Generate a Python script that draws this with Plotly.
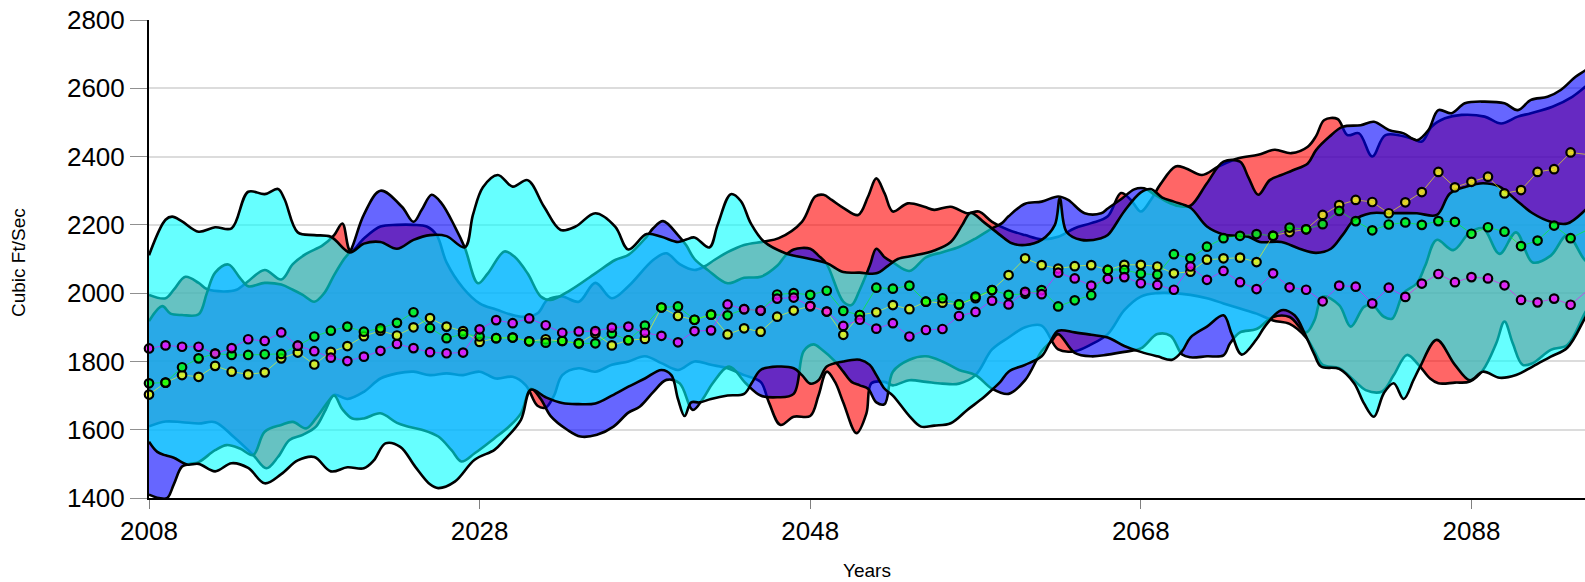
import plotly.graph_objects as go

# ---------------- data ----------------
YEARS = list(range(2008, 2096))

MAGENTA = [1838, 1847, 1843, 1843, 1823, 1839, 1865, 1860, 1885, 1846,
           1830, 1811, 1801, 1814, 1831, 1851, 1839, 1827, 1824, 1826,
           1894, 1921, 1912, 1926, 1906, 1884, 1888, 1889, 1899, 1902,
           1884, 1875, 1856, 1889, 1891, 1967, 1953, 1949, 1984, 1987,
           1962, 1946, 1904, 1922, 1896, 1912, 1873, 1892, 1895, 1933,
           1945, 1978, 1967, 2004, 1997, 2060, 2043, 2022, 2042, 2047,
           2029, 2024, 2010, 2078, 2039, 2065, 2032, 2012, 2058, 2017,
           2010, 1976, 2022, 2019, 1970, 2016, 1989, 2028, 2056, 2032,
           2047, 2043, 2023, 1980, 1973, 1984, 1966, 2007]

GREEN = [1736, 1738, 1783, 1809, 1823, 1819, 1819, 1821, 1822, 1846,
         1873, 1890, 1902, 1887, 1897, 1913, 1944, 1898, 1868, 1880,
         1873, 1868, 1870, 1859, 1855, 1860, 1853, 1853, 1882, 1862,
         1905, 1958, 1961, 1922, 1937, 1935, 1953, 1949, 1996, 2000,
         1995, 2007, 1948, 1936, 2016, 2013, 2022, 1975, 1985, 1967,
         1990, 2009, 1995, 1998, 2009, 1961, 1979, 1994, 2068, 2068,
         2057, 2054, 2114, 2102, 2136, 2161, 2168, 2173, 2168, 2192,
         2187, 2202, 2241, 2211, 2184, 2201, 2207, 2200, 2211, 2209,
         2174, 2193, 2180, 2138, 2154, 2198, 2161, 2185]

YELLOW = [1703, 1738, 1760, 1755, 1787, 1770, 1762, 1768, 1809, 1826,
          1791, 1828, 1845, 1874, 1890, 1876, 1900, 1927, 1902, 1889,
          1857, 1868, 1870, 1859, 1865, 1860, 1853, 1882, 1847, 1862,
          1866, 1958, 1933, 1922, 1937, 1879, 1897, 1887, 1931, 1949,
          1962, 1946, 1878, 1936, 1944, 1965, 1953, 1975, 1972, 1967,
          1985, 2009, 2053, 2102, 2082, 2072, 2079, 2082, 2068, 2083,
          2083, 2078, 2058, 2063, 2098, 2102, 2104, 2091, 2168, 2179,
          2187, 2229, 2258, 2273, 2267, 2234, 2266, 2296, 2355, 2310,
          2326, 2341, 2292, 2302, 2355, 2363, 2412, 2406]

# band envelopes: (year, value)
RED_UPPER = [(2008, 1995), (2009, 1985), (2009.5, 2010), (2010.2, 2048), (2011, 2030), (2011.5, 2012),
             (2012.5, 2005), (2013.3, 2010), (2014, 2035), (2015, 2068), (2016, 2040), (2016.7, 2085),
             (2017.5, 2115), (2018.5, 2140), (2019.2, 2170), (2019.7, 2204), (2020.2, 2122), (2021, 2160),
             (2022, 2195), (2023, 2200), (2024, 2200), (2024.8, 2195), (2025.4, 2170), (2026, 2090),
             (2027, 2015), (2028, 1970), (2029, 1952), (2030.5, 1931), (2031.5, 1941), (2032.1, 1980),
             (2033, 1990), (2034, 1975), (2035, 2030), (2036, 1985), (2037, 2020), (2038.5, 2097),
             (2039.3, 2117), (2040.1, 2085), (2041, 2068), (2041.6, 2078), (2042.2, 2097), (2043, 2120),
             (2044, 2141), (2045.2, 2151), (2046.1, 2161), (2047.5, 2209), (2048.3, 2283), (2048.8, 2288),
             (2049.3, 2273), (2050, 2250), (2050.9, 2229), (2051.5, 2283), (2052, 2336), (2052.5, 2292),
             (2053, 2239), (2053.9, 2263), (2054.9, 2253), (2055.5, 2244), (2056.5, 2253), (2057.5, 2234),
             (2058.2, 2239), (2059, 2209), (2060, 2185), (2061, 2170), (2062, 2158), (2063, 2165),
             (2064, 2190), (2065, 2205), (2066, 2225), (2066.8, 2293), (2067.4, 2273), (2068, 2239),
             (2068.6, 2273), (2069.2, 2320), (2070.1, 2371), (2070.7, 2366), (2071.7, 2346), (2072.7, 2371),
             (2073.9, 2395), (2075.1, 2405), (2076.1, 2420), (2077.1, 2410), (2078.1, 2429), (2078.6, 2460),
             (2079.1, 2507), (2079.9, 2510), (2080.5, 2463), (2081.2, 2468), (2082, 2400), (2082.8, 2463),
             (2084.4, 2453), (2085, 2444), (2085.6, 2488), (2086.4, 2512), (2087.4, 2522), (2088.8, 2517),
             (2089.8, 2497), (2090.8, 2517), (2091.6, 2527), (2092.9, 2546), (2094.1, 2575), (2094.9, 2605),
             (2095.6, 2635)]

RED_LOWER = [(2008, 1610), (2009, 1624), (2010, 1622), (2011, 1618), (2012, 1622), (2013.1, 1580),
             (2014.3, 1526), (2015.1, 1487), (2015.8, 1520), (2016.5, 1570), (2017.3, 1585), (2018.1, 1609),
             (2018.7, 1660), (2019.2, 1702), (2020, 1690), (2021, 1711), (2022, 1750), (2023, 1765),
             (2024, 1770), (2025, 1760), (2026, 1765), (2027, 1760), (2028, 1770), (2029, 1750),
             (2030, 1755), (2030.8, 1730), (2031.5, 1670), (2032, 1665), (2032.5, 1700), (2033, 1760),
             (2034, 1780), (2035, 1770), (2036, 1790), (2037, 1800), (2038, 1815), (2039, 1795),
             (2040, 1775), (2041, 1800), (2042, 1790), (2043, 1780), (2044, 1760), (2045, 1740),
             (2045.5, 1680), (2046.2, 1614), (2047, 1638), (2048, 1640), (2048.5, 1700), (2049, 1770),
             (2049.5, 1740), (2050, 1680), (2050.8, 1590), (2051.4, 1648), (2051.7, 1736), (2052.5, 1740),
             (2053, 1730), (2054, 1745), (2055, 1740), (2056, 1735), (2057, 1735), (2058, 1760),
             (2059, 1835), (2060, 1870), (2061, 1900), (2062, 1905), (2063, 1835), (2064, 1830),
             (2065, 1850), (2066, 1880), (2067, 1950), (2068, 1990), (2069, 2000), (2070, 2000),
             (2071, 1995), (2072, 1985), (2073, 1970), (2074, 1955), (2075, 1940), (2076, 1920),
             (2077, 1910), (2078, 1870), (2078.5, 1830), (2079, 1790), (2080, 1780), (2081, 1740),
             (2081.6, 1716), (2082.6, 1712), (2083.3, 1760), (2084.1, 1819), (2084.8, 1790), (2085.5, 1750),
             (2086, 1736), (2087, 1738), (2087.9, 1741), (2088.7, 1775), (2089.5, 1853), (2090, 1917),
             (2090.5, 1853), (2091.1, 1790), (2091.7, 1795), (2092.8, 1834), (2093.8, 1848), (2094.9, 1945),
             (2095.6, 2000)]

BLUE_UPPER = [(2008, 1918), (2008.8, 1962), (2009.3, 1940), (2010, 1936), (2011, 1938), (2011.5, 2000),
              (2012, 2060), (2012.8, 2084), (2013.5, 2045), (2014, 2020), (2015, 2030), (2016, 2025),
              (2016.7, 2010), (2017.3, 1995), (2018, 1975), (2018.6, 2000), (2019.2, 2053), (2019.8, 2100),
              (2020.2, 2125), (2021, 2230), (2022, 2300), (2023.3, 2253), (2024, 2209), (2024.5, 2244),
              (2025.1, 2288), (2025.7, 2263), (2026.5, 2195), (2027.1, 2134), (2027.9, 2029), (2028.5, 2058),
              (2029.5, 2122), (2030.1, 2107), (2030.9, 2058), (2031.7, 1990), (2032.3, 1980), (2033.5, 2009),
              (2035, 2058), (2036.2, 2097), (2037, 2112), (2038.1, 2165), (2038.5, 2190), (2039.1, 2211),
              (2040, 2170), (2040.5, 2140), (2041, 2100), (2041.8, 2068), (2043, 2029), (2044, 2045),
              (2045, 2048), (2046, 2080), (2046.5, 2110), (2047, 2128), (2048, 2130), (2048.5, 2110),
              (2049, 2085), (2050, 1975), (2050.5, 1965), (2051, 2010), (2051.6, 2080), (2052, 2130),
              (2052.5, 2105), (2053, 2090), (2054, 2065), (2055, 2105), (2056, 2120), (2057, 2135),
              (2058, 2160), (2059, 2190), (2059.6, 2205), (2060, 2225), (2061, 2262), (2062, 2268),
              (2063, 2283), (2063.6, 2273), (2064.6, 2234), (2065.6, 2234), (2066, 2248), (2066.8, 2275),
              (2067.6, 2304), (2068.2, 2307), (2068.8, 2290), (2069.5, 2270), (2070.3, 2255), (2071, 2256),
              (2072, 2322), (2073, 2385), (2074, 2385), (2074.5, 2340), (2075.1, 2288), (2075.8, 2331),
              (2076.5, 2346), (2077.2, 2360), (2078.1, 2380), (2078.6, 2419), (2079.4, 2458), (2080.2, 2487),
              (2081.3, 2492), (2082.1, 2502), (2083, 2478), (2083.9, 2468), (2084.7, 2448), (2085.4, 2478),
              (2086, 2536), (2086.8, 2527), (2087.6, 2556), (2088.8, 2561), (2090, 2556), (2090.8, 2536),
              (2091.6, 2566), (2092.6, 2575), (2093.4, 2595), (2094.3, 2634), (2094.9, 2653), (2095.6, 2680)]

BLUE_LOWER = [(2008, 1410), (2008.6, 1400), (2009.1, 1400), (2009.5, 1440), (2010, 1492), (2010.5, 1500),
              (2011, 1505), (2012, 1540), (2012.7, 1555), (2013.5, 1545), (2014.3, 1526), (2015, 1594),
              (2016, 1614), (2016.7, 1623), (2017.5, 1604), (2018.1, 1633), (2018.8, 1680), (2019.2, 1700),
              (2019.7, 1660), (2020.3, 1633), (2021, 1633), (2022, 1648), (2023, 1620), (2023.7, 1609),
              (2024.5, 1600), (2025.5, 1580), (2026.3, 1540), (2026.9, 1507), (2027.7, 1531), (2028.9, 1575),
              (2029.8, 1610), (2030.5, 1648), (2031.1, 1720), (2031.7, 1690), (2032.3, 1640), (2033.3, 1600),
              (2034.1, 1580), (2035.1, 1585), (2036.1, 1609), (2037, 1650), (2037.7, 1668), (2038.5, 1710),
              (2039.3, 1746), (2040.1, 1736), (2040.9, 1658), (2041.5, 1690), (2042.1, 1736), (2043.1, 1785),
              (2044.1, 1736), (2045, 1700), (2046, 1695), (2047, 1705), (2047.6, 1830), (2048.2, 1850),
              (2048.7, 1835), (2049.5, 1800), (2050, 1770), (2050.5, 1740), (2051, 1730), (2051.5, 1720),
              (2052, 1680), (2052.5, 1675), (2053, 1770), (2054, 1805), (2055, 1815), (2056, 1800),
              (2057, 1775), (2058, 1760), (2059, 1720), (2060, 1705), (2061, 1745), (2062, 1830),
              (2062.6, 1860), (2063, 1880), (2064, 1825), (2065, 1815), (2066, 1820), (2067, 1828),
              (2068, 1838), (2069, 1880), (2069.8, 1875), (2070.5, 1820), (2071, 1812), (2072, 1815),
              (2073, 1818), (2073.4, 1853), (2074, 1885), (2075, 1895), (2076, 1930), (2077, 1930),
              (2078, 1885), (2078.5, 1920), (2079, 1990), (2080, 1965), (2080.7, 1902), (2081.5, 1960),
              (2082, 1965), (2082.7, 1931), (2083.2, 1925), (2083.9, 2000), (2084.7, 2029), (2085.2, 2080),
              (2085.9, 2156), (2086.9, 2126), (2087.9, 2178), (2088.7, 2190), (2089.7, 2115), (2090.7, 2178),
              (2091.7, 2090), (2092.8, 2110), (2093.8, 2170), (2094.9, 2095), (2095.6, 2080)]

CYAN_UPPER = [(2008, 2111), (2009, 2215), (2009.4, 2224), (2010, 2210), (2011, 2180), (2012, 2193),
              (2013, 2190), (2014, 2297), (2015, 2290), (2015.8, 2305), (2016.2, 2275), (2017, 2178),
              (2018, 2170), (2019, 2165), (2020.15, 2119), (2021, 2145), (2022, 2150), (2023, 2130),
              (2024, 2156), (2025, 2170), (2026, 2167), (2027.1, 2134), (2027.6, 2230), (2028.2, 2310),
              (2029.1, 2346), (2030, 2312), (2030.9, 2331), (2031.9, 2253), (2032.9, 2185), (2033.8, 2195),
              (2035, 2234), (2036.2, 2195), (2037, 2128), (2038.1, 2173), (2039, 2165), (2040, 2150),
              (2040.5, 2157), (2041, 2163), (2041.9, 2134), (2042.4, 2200), (2043.2, 2290), (2043.8, 2270),
              (2044.4, 2205), (2045.2, 2151), (2046.5, 2117), (2048, 2100), (2049, 2088), (2050, 2062),
              (2051, 2060), (2052, 2058), (2052.7, 2080), (2053.3, 2100), (2054.3, 2110), (2055.5, 2125),
              (2056.5, 2150), (2057.2, 2200), (2057.7, 2235), (2058.5, 2208), (2059.5, 2170), (2060.2, 2146),
              (2061, 2141), (2062, 2156), (2062.8, 2200), (2063.1, 2278), (2063.5, 2180), (2064.4, 2156),
              (2065.6, 2161), (2066, 2170), (2067, 2240), (2068, 2295), (2068.6, 2305), (2069.3, 2280),
              (2070, 2268), (2071, 2250), (2072, 2195), (2073, 2172), (2074.5, 2165), (2075.2, 2150),
              (2076.5, 2150), (2077.6, 2130), (2078.6, 2118), (2079.5, 2130), (2080.2, 2170), (2080.9, 2214),
              (2081.9, 2234), (2083, 2234), (2084.7, 2234), (2085.9, 2229), (2086.7, 2292), (2087.7, 2312),
              (2088.7, 2322), (2089.7, 2312), (2090.7, 2273), (2091.7, 2234), (2092.8, 2209), (2093.8, 2204),
              (2094.9, 2244), (2095.6, 2280)]

CYAN_LOWER = [(2008, 1565), (2008.5, 1535), (2009, 1525), (2009.5, 1518), (2010.3, 1498), (2011, 1500),
              (2012, 1478), (2013, 1502), (2014, 1488), (2015, 1443), (2016, 1470), (2017, 1510),
              (2018, 1520), (2019, 1478), (2020, 1490), (2021, 1487), (2021.6, 1510), (2022.3, 1560),
              (2023.2, 1550), (2024.1, 1492), (2025, 1440), (2025.5, 1429), (2026.5, 1448), (2027.7, 1512),
              (2028.9, 1541), (2029.5, 1570), (2030.5, 1629), (2031.1, 1717), (2032, 1695), (2033, 1678),
              (2034, 1675), (2035, 1677), (2036, 1700), (2037, 1726), (2038, 1750), (2039, 1775),
              (2039.6, 1760), (2040, 1690), (2040.4, 1640), (2040.8, 1680), (2041.3, 1680), (2042, 1690),
              (2043, 1700), (2044, 1705), (2044.5, 1740), (2045, 1775), (2046, 1785), (2047, 1780),
              (2047.5, 1760), (2048, 1735), (2048.5, 1745), (2049, 1785), (2050, 1800), (2051, 1805),
              (2051.6, 1790), (2052, 1760), (2052.5, 1720), (2053, 1700), (2054, 1640), (2054.7, 1609),
              (2055.5, 1612), (2056.5, 1619), (2057.5, 1658), (2058.5, 1695), (2059, 1717), (2059.5, 1740),
              (2060, 1770), (2061, 1790), (2062, 1815), (2062.5, 1855), (2063, 1890), (2064, 1885),
              (2065, 1878), (2066, 1870), (2067, 1845), (2068, 1828), (2069, 1815), (2069.9, 1805),
              (2070.5, 1830), (2071, 1870), (2072, 1902), (2073, 1935), (2073.5, 1880), (2074.1, 1820),
              (2075, 1865), (2075.5, 1902), (2076.5, 1950), (2077.3, 1935), (2077.9, 1883), (2078.5, 1820),
              (2078.9, 1785), (2080, 1778), (2080.9, 1736), (2081.5, 1677), (2082.1, 1638), (2082.7, 1707),
              (2083.3, 1736), (2083.9, 1690), (2084.5, 1746), (2084.9, 1785), (2085.9, 1863), (2087, 1790),
              (2087.9, 1745), (2088.7, 1770), (2089.7, 1752), (2090.7, 1760), (2091.7, 1785), (2092.8, 1814),
              (2093.8, 1840), (2094.9, 1930), (2095.6, 1990)]

X_TICKS = [2008, 2028, 2048, 2068, 2088]
Y_RANGE = [1400, 2800]
X_RANGE = [2008, 2094.87]

# ---------------- figure ----------------
FONT = "Arial, Liberation Sans, sans-serif"
fig = go.Figure()


def unzip(pts):
    return [p[0] for p in pts], [p[1] for p in pts]


bands = [
    (RED_LOWER, RED_UPPER, "rgba(255,0,0,0.6)"),
    (BLUE_LOWER, BLUE_UPPER, "rgba(0,0,255,0.6)"),
    (CYAN_LOWER, CYAN_UPPER, "rgba(0,255,255,0.6)"),
]
for lower, upper, fc in bands:
    lx, ly = unzip(lower)
    ux, uy = unzip(upper)
    fig.add_trace(go.Scatter(x=lx, y=ly, mode="lines",
                             line=dict(color="black", width=2.6, shape="spline", smoothing=1),
                             hoverinfo="skip", showlegend=False))
    fig.add_trace(go.Scatter(x=ux, y=uy, mode="lines", fill="tonexty", fillcolor=fc,
                             line=dict(color="black", width=2.6, shape="spline", smoothing=1),
                             hoverinfo="skip", showlegend=False))

dots = [
    (YELLOW, (255, 255, 0)),
    (GREEN, (0, 255, 0)),
    (MAGENTA, (255, 0, 255)),
]
for vals, (r, g, b) in dots:
    fig.add_trace(go.Scatter(
        x=YEARS, y=vals, mode="lines+markers", cliponaxis=False,
        line=dict(color=f"rgba({r},{g},{b},0.6)", width=1),
        marker=dict(size=8.5, color=f"rgba({r},{g},{b},0.75)",
                    line=dict(color="black", width=2.2)),
        showlegend=False))

fig.update_layout(
    width=1585, height=582,
    margin=dict(l=149, r=0, t=20, b=84),
    paper_bgcolor="white", plot_bgcolor="white",
    showlegend=False,
    font=dict(family=FONT, color="black"),
)
fig.update_xaxes(range=X_RANGE, tickmode="array", tickvals=X_TICKS,
                 ticks="outside", ticklen=9, tickcolor="#808080", tickwidth=1,
                 showline=True, linecolor="black", linewidth=2,
                 showgrid=False, zeroline=False,
                 tickfont=dict(size=26, family=FONT, color="black"))
fig.update_yaxes(range=Y_RANGE, dtick=200, tick0=1400,
                 ticks="outside", ticklen=17, tickcolor="#909090", tickwidth=1,
                 showline=True, linecolor="black", linewidth=2,
                 showgrid=True, gridcolor="#dcdcdc", gridwidth=1.5, zeroline=False,
                 tickfont=dict(size=26, family=FONT, color="black"))

fig.add_annotation(text="Cubic Ft/Sec", xref="paper", yref="paper",
                   x=(18 - 149) / 1436, y=(498 - 263) / 478, textangle=-90,
                   showarrow=False, xanchor="center", yanchor="middle",
                   font=dict(size=19, family=FONT, color="black"))
fig.add_annotation(text="Years", xref="paper", yref="paper",
                   x=0.5, y=(498 - 570) / 478, showarrow=False,
                   xanchor="center", yanchor="middle",
                   font=dict(size=19, family=FONT, color="black"))

fig.write_html("out.html", config={"displayModeBar": False},
               post_script="document.body.style.margin='0';document.body.style.overflow='hidden';")
